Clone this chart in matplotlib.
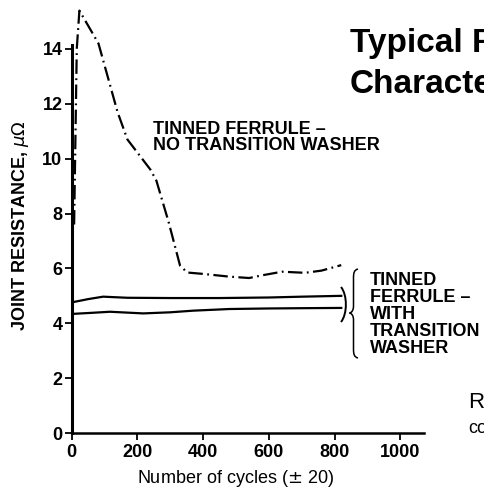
import numpy as np
import matplotlib
matplotlib.use("Agg")
import matplotlib.pyplot as plt
from matplotlib.path import Path
from matplotlib.patches import PathPatch
from matplotlib.transforms import Affine2D

plt.rcParams['font.family'] = ['Liberation Sans', 'DejaVu Sans']

# data (cycles, micro-ohm)
no_washer_x = [8, 16, 24, 82, 140, 170, 240, 258, 295, 330, 352, 400, 480, 540, 580, 640, 710, 760, 820]
no_washer_y = [7.6, 14.0, 15.4, 14.2, 11.7, 10.7, 9.6, 9.2, 7.7, 6.1, 5.85, 5.8, 5.7, 5.65, 5.75, 5.88, 5.84, 5.92, 6.12]

washer_hi_x = [0, 50, 96, 170, 300, 450, 600, 700, 820]
washer_hi_y = [4.76, 4.88, 4.97, 4.93, 4.92, 4.92, 4.94, 4.97, 5.0]

washer_lo_x = [0, 60, 117, 218, 300, 370, 480, 600, 700, 820]
washer_lo_y = [4.34, 4.38, 4.42, 4.36, 4.40, 4.46, 4.52, 4.54, 4.55, 4.56]

xticks = [0, 200, 400, 600, 800, 1000]
yticks = [0, 2, 4, 6, 8, 10, 12, 14]

W, H = 484, 491
fig = plt.figure(figsize=(W / 100, H / 100), dpi=100)
# pixel coords, y measured from the top
pix = Affine2D().scale(1 / W, -1 / H).translate(0, 1) + fig.transFigure

ax = fig.add_axes([71.5 / W, 1 - 433 / H, 352 / W, 427 / H])
ax.set_xlim(0, 1070)
ax.set_ylim(0, 427 / 27.43)

ax.plot(no_washer_x, no_washer_y, color='black', lw=1.6,
        linestyle=(0, (6.5, 2, 0.8, 2)), solid_capstyle='butt')
ax.plot(washer_hi_x, washer_hi_y, color='black', lw=1.6)
ax.plot(washer_lo_x, washer_lo_y, color='black', lw=1.6)

for s in ['top', 'right']:
    ax.spines[s].set_visible(False)
ax.spines['left'].set_linewidth(2.2)
ax.spines['left'].set_bounds(0, 14.15)
ax.spines['bottom'].set_linewidth(1.8)

ax.set_xticks(xticks)
ax.set_yticks(yticks)
ax.tick_params(axis='both', direction='out', length=5, width=1.3, labelsize=13)
ax.tick_params(axis='y', pad=1.5)
ax.tick_params(axis='x', pad=3)
for lab in ax.get_xticklabels() + ax.get_yticklabels():
    lab.set_fontweight('bold')

ax.set_xlabel('Number of cycles ($\\pm$ 20)', fontsize=13, fontweight='medium')
ax.xaxis.set_label_coords(500 / 1070, (433 - 468) / 427)
ax.set_ylabel('JOINT RESISTANCE, $\\mu\\Omega$', fontsize=13, fontweight='bold')
ax.yaxis.set_label_coords((31 - 71.5) / 352, (433 - 226) / 427)

# annotations
fig.text(153, 134, 'TINNED FERRULE –', transform=pix, fontsize=13, fontweight='bold', va='baseline')
fig.text(153, 150, 'NO TRANSITION WASHER', transform=pix, fontsize=13, fontweight='bold', va='baseline')

bracket_lines = ['TINNED', 'FERRULE –', 'WITH', 'TRANSITION', 'WASHER']
for i, s in enumerate(bracket_lines):
    fig.text(370, 285 + i * 17, s, transform=pix, fontsize=13, fontweight='bold', va='baseline')

brace = Path([(358, 269), (354, 270), (353.5, 273), (353.5, 278),
              (353.5, 306),
              (353.5, 310), (352, 312.5), (349.5, 313),
              (352, 313.5), (353.5, 316), (353.5, 320),
              (353.5, 349),
              (353.5, 354), (354, 357), (358, 358)],
             [Path.MOVETO, Path.CURVE4, Path.CURVE4, Path.CURVE4,
              Path.LINETO,
              Path.CURVE4, Path.CURVE4, Path.CURVE4,
              Path.CURVE4, Path.CURVE4, Path.CURVE4,
              Path.LINETO,
              Path.CURVE4, Path.CURVE4, Path.CURVE4])
fig.add_artist(PathPatch(brace, transform=pix, fill=False, lw=1.1, color='black'))
paren = Path([(341, 287), (347.5, 295), (347.5, 314), (341, 322)],
             [Path.MOVETO, Path.CURVE4, Path.CURVE4, Path.CURVE4])
fig.add_artist(PathPatch(paren, transform=pix, fill=False, lw=1.4, color='black'))

# title and side text, cut by the right edge as in the source scan
fig.text(350, 52, 'Typical Resistance', transform=pix, fontsize=24, fontweight='bold', va='baseline')
fig.text(350, 93, 'Characteristics', transform=pix, fontsize=24, fontweight='bold', va='baseline')
fig.text(468, 408, 'R', transform=pix, fontsize=16, va='baseline')
fig.text(468, 433, 'co', transform=pix, fontsize=13, va='baseline')

fig.savefig('out.png', dpi=100)
